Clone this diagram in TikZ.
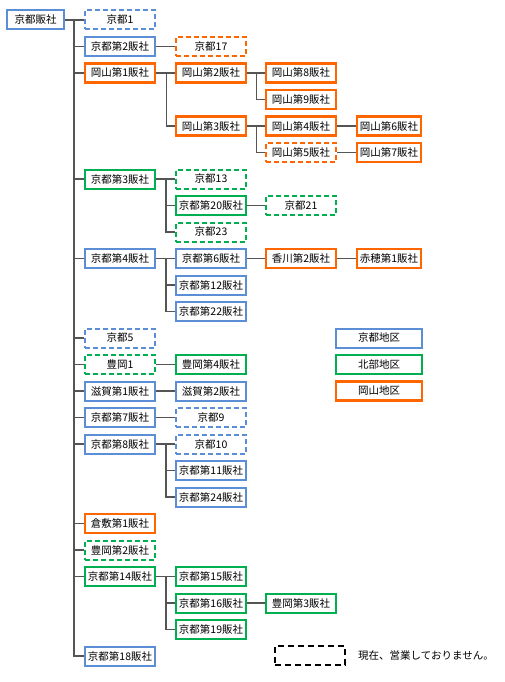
\documentclass[tikz,border=0pt]{standalone}
\usepackage{fontspec}
\newfontfamily\jp{Noto Sans CJK JP}
\definecolor{kblue}{HTML}{5B8ED6}
\definecolor{korange}{HTML}{FF6600}
\definecolor{kgreen}{HTML}{00B050}
\definecolor{linkgray}{HTML}{555555}
\tikzset{
  box/.style={draw, minimum width=70pt, minimum height=19pt, inner sep=0pt, fill=white,
    font=\jp\fontsize{10.5}{12}\selectfont},
  kbl/.style={box, draw=kblue, line width=2pt},
  kor/.style={box, draw=korange, line width=2.6pt},
  kgr/.style={box, draw=kgreen, line width=2pt},
  dsh/.style={dash pattern=on 5pt off 3pt},
  narrow/.style={minimum width=64pt},
  link/.style={draw=linkgray, line width=1.2pt},
}
\begin{document}
\begin{tikzpicture}[x=1pt,y=-1pt]
\useasboundingbox (0,0) rectangle (505,682);
\def\ca{120}\def\cb{211}\def\cc{301}\def\cd{389}
% nodes
\node[kbl, minimum width=57pt] (root) at (35.5,20) {京都販社};
\node[kbl,dsh] (a1) at (\ca,20) {京都1};
\node[kbl] (a2) at (\ca,46.5) {京都第2販社};
\node[kor,dsh] (a2a) at (\cb,46.5) {京都17};
\node[kor] (a3) at (\ca,73) {岡山第1販社};
\node[kor] (a3a) at (\cb,73) {岡山第2販社};
\node[kor] (a3a1) at (\cc,73) {岡山第8販社};
\node[kor] (a3a2) at (\cc,99.5) {岡山第9販社};
\node[kor] (a3b) at (\cb,126) {岡山第3販社};
\node[kor] (a3b1) at (\cc,126) {岡山第4販社};
\node[kor,narrow] (a3b1x) at (\cd,126) {岡山第6販社};
\node[kor,dsh] (a3b2) at (\cc,152.5) {岡山第5販社};
\node[kor,narrow] (a3b2x) at (\cd,152.5) {岡山第7販社};
\node[kgr] (a4) at (\ca,179) {京都第3販社};
\node[kgr,dsh] (a4a) at (\cb,179) {京都13};
\node[kgr] (a4b) at (\cb,205.5) {京都第20販社};
\node[kgr,dsh] (a4b1) at (\cc,205.5) {京都21};
\node[kgr,dsh] (a4c) at (\cb,232) {京都23};
\node[kbl] (a5) at (\ca,258.5) {京都第4販社};
\node[kbl] (a5a) at (\cb,258.5) {京都第6販社};
\node[kor] (a5a1) at (\cc,258.5) {香川第2販社};
\node[kor,narrow] (a5a1x) at (\cd,258.5) {赤穂第1販社};
\node[kbl] (a5b) at (\cb,285) {京都第12販社};
\node[kbl] (a5c) at (\cb,311.5) {京都第22販社};
\node[kbl,dsh] (a6) at (\ca,338) {京都5};
\node[kgr,dsh] (a7) at (\ca,364.5) {豊岡1};
\node[kgr] (a7a) at (\cb,364.5) {豊岡第4販社};
\node[kbl] (a8) at (\ca,391) {滋賀第1販社};
\node[kbl] (a8a) at (\cb,391) {滋賀第2販社};
\node[kbl] (a9) at (\ca,417.5) {京都第7販社};
\node[kbl,dsh] (a9a) at (\cb,417.5) {京都9};
\node[kbl] (a10) at (\ca,444) {京都第8販社};
\node[kbl,dsh] (a10a) at (\cb,444) {京都10};
\node[kbl] (a10b) at (\cb,470.5) {京都第11販社};
\node[kbl] (a10c) at (\cb,497) {京都第24販社};
\node[kor] (a11) at (\ca,523.5) {倉敷第1販社};
\node[kgr,dsh] (a12) at (\ca,550) {豊岡第2販社};
\node[kgr] (a13) at (\ca,576.5) {京都第14販社};
\node[kgr] (a13a) at (\cb,576.5) {京都第15販社};
\node[kgr] (a13b) at (\cb,603) {京都第16販社};
\node[kgr] (a13b1) at (\cc,603) {豊岡第3販社};
\node[kgr] (a13c) at (\cb,629.5) {京都第19販社};
\node[kbl] (a14) at (\ca,656) {京都第18販社};
% legend
\node[kbl, minimum width=86pt] (lg1) at (379,338) {京都地区};
\node[kgr, minimum width=86pt] (lg2) at (379,364.5) {北部地区};
\node[kor, minimum width=86pt] (lg3) at (379,391) {岡山地区};
\node[box, draw=black, line width=2pt, dash pattern=on 6pt off 4pt] (lg4) at (310,655.5) {};
\node[anchor=west, inner sep=0pt, font=\jp\fontsize{10.5}{12}\selectfont] (lg4t) at (358,656) {現在、営業しておりません。};
% links
\foreach \c in {a1,a2,a3,a4,a5,a6,a7,a8,a9,a10,a11,a12,a13,a14}
  \draw[link] (root.east) -- ++(9,0) |- (\c.west);
\foreach \p/\c in {a2/a2a,a3/a3a,a3/a3b,a4/a4a,a4/a4b,a4/a4c,a5/a5a,a5/a5b,a5/a5c,a7/a7a,a8/a8a,a9/a9a,a10/a10a,a10/a10b,a10/a10c,a13/a13a,a13/a13b,a13/a13c}
  \draw[link] (\p.east) -- ++(10,0) |- (\c.west);
\foreach \p/\c in {a3a/a3a1,a3a/a3a2,a3b/a3b1,a3b/a3b2,a4b/a4b1,a5a/a5a1,a13b/a13b1}
  \draw[link] (\p.east) -- ++(9,0) |- (\c.west);
\foreach \p/\c in {a3b1/a3b1x,a3b2/a3b2x,a5a1/a5a1x}
  \draw[link] (\p.east) -- (\c.west);
\end{tikzpicture}
\end{document}
